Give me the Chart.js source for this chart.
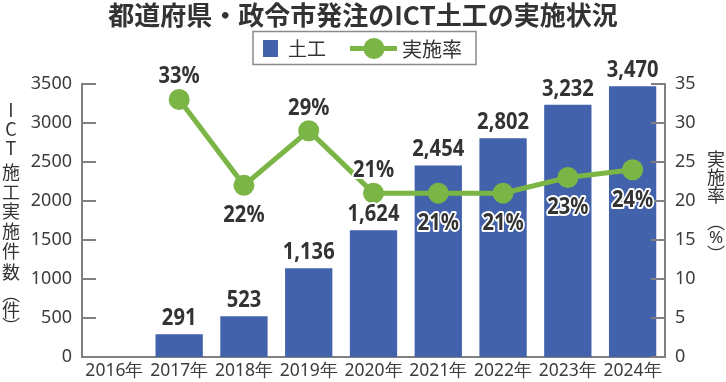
<!DOCTYPE html>
<html><head><meta charset="utf-8">
<script src="https://cdn.jsdelivr.net/npm/chart.js@4"></script>
<style>html,body{margin:0;padding:0;background:#fff;overflow:hidden}</style>
</head><body>
<canvas id="c" width="726" height="382"></canvas>
<script>
const categories = ['2016年','2017年','2018年','2019年','2020年','2021年','2022年','2023年','2024年'];
const workCounts = [null, 291, 523, 1136, 1624, 2454, 2802, 3232, 3470];
const rates = [null, 33, 22, 29, 21, 21, 21, 23, 24];
const rateLabelSide = [null, 'above', 'below', 'above', 'above', 'below', 'below', 'below', 'below'];
const titleText = '都道府県・政令市発注のICT土工の実施状況';
const seriesNames = ['土工', '実施率'];
const leftAxisTitle = ['I','C','T','施','工','実','施','件','数'];
const leftAxisUnit = '件';
const rightAxisTitle = ['実','施','率'];
const rightAxisUnit = '%';

const BLUE = '#4262ab';
const GREEN = '#7ab546';
const DARK = '#333333';
const AXIS = '#808080';
const TICKTXT = '#3c3c3c';
const CJK = '"Noto Sans CJK JP", "Noto Sans", sans-serif';
const LAT = '"Noto Sans", sans-serif';

function drawValueLabel(ctx, text, x, y) {
  ctx.save();
  ctx.translate(x, y);
  ctx.scale(0.84, 1);
  ctx.font = 'bold 24px ' + LAT;
  ctx.textAlign = 'center';
  ctx.textBaseline = 'middle';
  ctx.lineJoin = 'round';
  ctx.strokeStyle = '#ffffff';
  ctx.lineWidth = 4;
  ctx.strokeText(text, 0, 0);
  ctx.fillStyle = DARK;
  ctx.fillText(text, 0, 0);
  ctx.restore();
}

const decor = {
  id: 'decor',
  afterDatasetsDraw(chart) {
    const ctx = chart.ctx;
    ctx.save();
    ctx.strokeStyle = AXIS;
    ctx.lineWidth = 2;
    const yl = chart.scales.y, yr = chart.scales.y1;
    yl.ticks.forEach((t, i) => {
      const py = Math.round(yl.getPixelForTick(i));
      ctx.beginPath(); ctx.moveTo(chart.chartArea.left, py); ctx.lineTo(chart.chartArea.left + 14, py); ctx.stroke();
    });
    yr.ticks.forEach((t, i) => {
      const py = Math.round(yr.getPixelForTick(i));
      ctx.beginPath(); ctx.moveTo(chart.chartArea.right - 14, py); ctx.lineTo(chart.chartArea.right, py); ctx.stroke();
    });
    ctx.restore();
  },
  afterDraw(chart) {
    const ctx = chart.ctx;
    const barMeta = chart.getDatasetMeta(0);
    barMeta.data.forEach((el, i) => {
      if (workCounts[i] == null) return;
      drawValueLabel(ctx, workCounts[i].toLocaleString('en-US'), el.x, el.y - 16);
    });
    const lineMeta = chart.getDatasetMeta(1);
    lineMeta.data.forEach((el, i) => {
      if (rates[i] == null) return;
      const dy = rateLabelSide[i] === 'above' ? -23 : 30;
      drawValueLabel(ctx, rates[i] + '%', el.x, el.y + dy);
    });

    // legend
    ctx.save();
    ctx.strokeStyle = '#8a8a8a';
    ctx.lineWidth = 1.5;
    ctx.strokeRect(253, 31.5, 223, 33);
    ctx.fillStyle = BLUE;
    ctx.fillRect(263, 40, 15, 17);
    ctx.fillStyle = DARK;
    ctx.font = '19px ' + CJK;
    ctx.textBaseline = 'middle';
    ctx.textAlign = 'left';
    ctx.fillText(seriesNames[0], 288, 49);
    ctx.strokeStyle = GREEN;
    ctx.lineWidth = 5;
    ctx.beginPath(); ctx.moveTo(350, 48.5); ctx.lineTo(397, 48.5); ctx.stroke();
    ctx.fillStyle = GREEN;
    ctx.beginPath(); ctx.arc(374, 48.5, 10.5, 0, Math.PI * 2); ctx.fill();
    ctx.fillStyle = DARK;
    ctx.font = '20px ' + CJK;
    ctx.fillText(seriesNames[1], 402, 49);

    // vertical axis titles
    ctx.textAlign = 'center';
    ctx.textBaseline = 'middle';
    ctx.fillStyle = DARK;
    ctx.font = '18px ' + CJK;
    const leftY = [110, 129, 148, 172, 192, 211, 231, 251, 272];
    leftAxisTitle.forEach((ch, i) => ctx.fillText(ch, 11, leftY[i]));
    ctx.fillText('︵', 11, 310 - 16);
    ctx.fillText(leftAxisUnit, 11, 310);
    ctx.fillText('︶', 11, 310 + 16);
    const rightY = [159, 177, 195];
    rightAxisTitle.forEach((ch, i) => ctx.fillText(ch, 716, rightY[i]));
    ctx.fillText('︵', 716, 238 - 16);
    ctx.font = '17px ' + LAT;
    ctx.fillText(rightAxisUnit, 716, 238);
    ctx.font = '18px ' + CJK;
    ctx.fillText('︶', 716, 238 + 16);
    ctx.restore();
  }
};

new Chart(document.getElementById('c'), {
  type: 'bar',
  data: {
    labels: categories,
    datasets: [
      {
        type: 'bar', label: seriesNames[0], data: workCounts, yAxisID: 'y',
        backgroundColor: BLUE, borderWidth: 0,
        barPercentage: 0.73, categoryPercentage: 1.0, order: 1
      },
      {
        type: 'line', label: seriesNames[1], data: rates, yAxisID: 'y1',
        borderColor: GREEN, backgroundColor: GREEN, borderWidth: 5,
        pointRadius: 10.5, pointHoverRadius: 10.5, pointBackgroundColor: GREEN,
        pointBorderWidth: 0, tension: 0, order: 0
      }
    ]
  },
  options: {
    responsive: false,
    animation: false,
    devicePixelRatio: 1,
    layout: { padding: 0 },
    plugins: {
      legend: { display: false },
      tooltip: { enabled: false },
      title: {
        display: true, text: titleText, color: DARK,
        font: { family: CJK, size: 26, weight: 'bold', lineHeight: 1.15 },
        padding: { top: 0, bottom: 54 }
      }
    },
    scales: {
      x: {
        grid: { display: false, drawTicks: false },
        border: { display: true, color: AXIS, width: 2 },
        ticks: { color: TICKTXT, font: { family: LAT, size: 17.5 }, padding: 4, maxRotation: 0, autoSkip: false },
        afterFit(s) { s.height = 25; }
      },
      y: {
        position: 'left', min: 0, max: 3500,
        grid: { display: false, drawTicks: false },
        border: { display: true, color: AXIS, width: 2 },
        ticks: { stepSize: 500, color: TICKTXT, font: { family: LAT, size: 18 }, padding: 10,
                 callback: (v) => String(v) },
        afterFit(s) { s.width = 82; }
      },
      y1: {
        position: 'right', min: 0, max: 35,
        grid: { display: false, drawTicks: false },
        border: { display: true, color: AXIS, width: 2 },
        ticks: { stepSize: 5, color: TICKTXT, font: { family: LAT, size: 18 }, padding: 10,
                 callback: (v) => String(v) },
        afterFit(s) { s.width = 61; }
      }
    }
  },
  plugins: [decor]
});
</script>
</body></html>
